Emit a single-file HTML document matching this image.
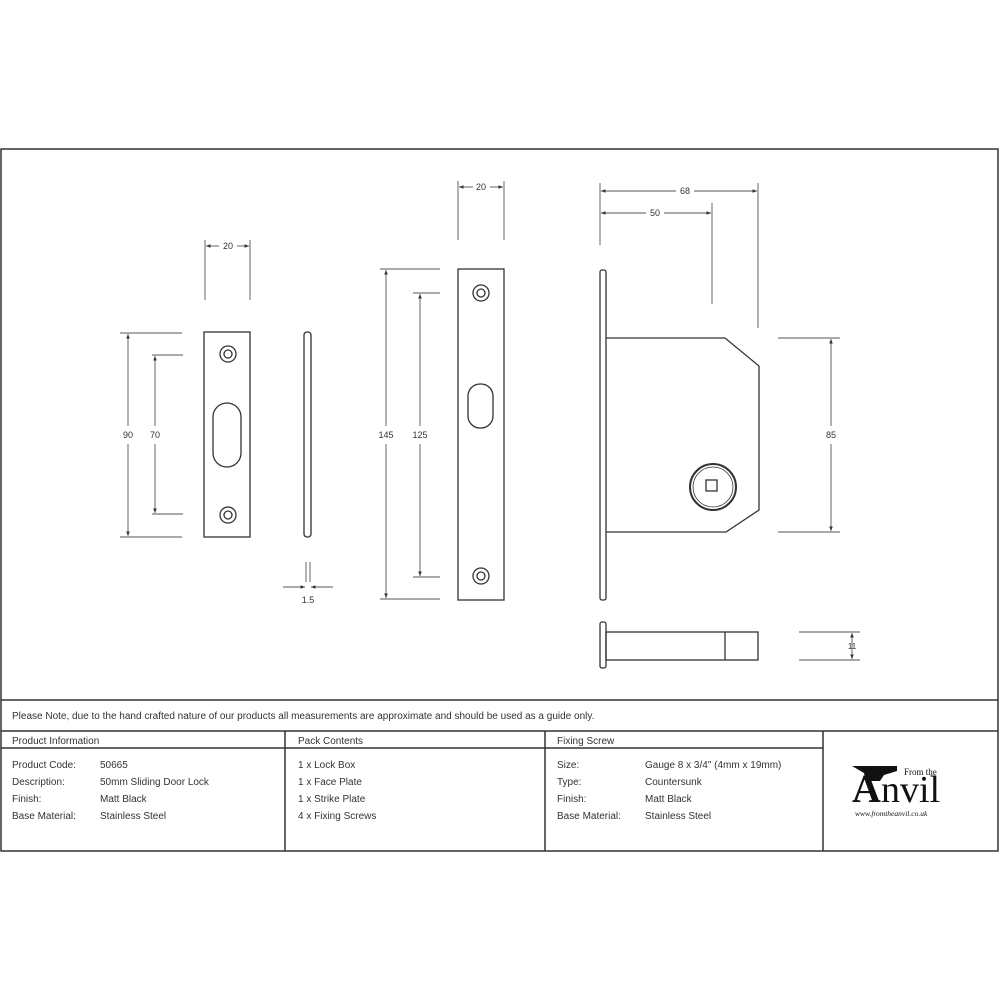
<!DOCTYPE html>
<html><head><meta charset="utf-8"><style>
html,body{margin:0;padding:0;background:#fff;}
svg{display:block}
text{font-family:"Liberation Sans",sans-serif;fill:#333}
text.serif{font-family:"Liberation Serif",serif;fill:#111}
</style></head><body>
<svg width="1000" height="1000" viewBox="0 0 1000 1000" xmlns="http://www.w3.org/2000/svg">
<defs>
<marker id="a" viewBox="0 0 10 10" refX="10" refY="5" markerWidth="5" markerHeight="5" orient="auto-start-reverse"><path d="M0,1 L10,5 L0,9z" fill="#333"/></marker>
</defs>
<rect width="1000" height="1000" fill="#fff"/>
<g stroke="#333" stroke-width="1.5" fill="none">
<rect x="1" y="149" width="997" height="702"/>
<line x1="1" y1="700" x2="998" y2="700"/>
<line x1="1" y1="731" x2="998" y2="731"/>
<line x1="1" y1="748" x2="823" y2="748"/>
<line x1="285" y1="731" x2="285" y2="851"/>
<line x1="545" y1="731" x2="545" y2="851"/>
<line x1="823" y1="731" x2="823" y2="851"/>
</g>
<g font-size="10">
<text x="12" y="719">Please Note, due to the hand crafted nature of our products all measurements are approximate and should be used as a guide only.</text>
<text x="12" y="744">Product Information</text>
<text x="298" y="744">Pack Contents</text>
<text x="557" y="744">Fixing Screw</text>
<text x="12" y="768">Product Code:</text><text x="100" y="768">50665</text>
<text x="12" y="785">Description:</text><text x="100" y="785">50mm Sliding Door Lock</text>
<text x="12" y="802">Finish:</text><text x="100" y="802">Matt Black</text>
<text x="12" y="819">Base Material:</text><text x="100" y="819">Stainless Steel</text>
<text x="298" y="768">1 x Lock Box</text>
<text x="298" y="785">1 x Face Plate</text>
<text x="298" y="802">1 x Strike Plate</text>
<text x="298" y="819">4 x Fixing Screws</text>
<text x="557" y="768">Size:</text><text x="645" y="768">Gauge 8 x 3/4" (4mm x 19mm)</text>
<text x="557" y="785">Type:</text><text x="645" y="785">Countersunk</text>
<text x="557" y="802">Finish:</text><text x="645" y="802">Matt Black</text>
<text x="557" y="819">Base Material:</text><text x="645" y="819">Stainless Steel</text>
</g>
<!-- logo -->
<path d="M852,766 L897,766 L897,771 L884,775 L880,781 L866,781 L864,773 Z" fill="#111"/>
<text class="serif" x="852" y="802" font-size="40" font-weight="bold">A</text>
<text class="serif" x="881" y="802" font-size="38">nvil</text>
<text class="serif" x="904" y="775" font-size="9">From the</text>
<text class="serif" x="855" y="816" font-size="7.5" font-style="italic">www.fromtheanvil.co.uk</text>

<g stroke="#333" stroke-width="1.3" fill="none">
<rect x="204" y="332" width="46" height="205"/>
<circle cx="228" cy="354" r="8"/><circle cx="228" cy="354" r="4"/>
<circle cx="228" cy="515" r="8"/><circle cx="228" cy="515" r="4"/>
<rect x="213" y="403" width="28" height="64" rx="14"/>
<rect x="304" y="332" width="7" height="205" rx="3"/>
<rect x="458" y="269" width="46" height="331"/>
<circle cx="481" cy="293" r="8"/><circle cx="481" cy="293" r="4"/>
<circle cx="481" cy="576" r="8"/><circle cx="481" cy="576" r="4"/>
<rect x="468" y="384" width="25" height="44" rx="12"/>
<rect x="600" y="270" width="6" height="330" rx="2"/>
<path d="M606,338 L725,338 L759,366 L759,510 L726,532 L606,532"/>
<circle cx="713" cy="487" r="23" stroke-width="2"/>
<circle cx="713" cy="487" r="20" stroke-width="0.8"/>
<rect x="706" y="480" width="11" height="11"/>
<rect x="600" y="622" width="6" height="46" rx="2"/>
<rect x="606" y="632" width="152" height="28"/>
<line x1="725" y1="632" x2="725" y2="660"/>
</g>
<g stroke="#555" stroke-width="0.9" fill="none">
<line x1="205" y1="240" x2="205" y2="300"/><line x1="250" y1="240" x2="250" y2="300"/>
<line x1="206" y1="246" x2="219" y2="246" marker-start="url(#a)"/><line x1="237" y1="246" x2="249" y2="246" marker-end="url(#a)"/>
<line x1="120" y1="333" x2="182" y2="333"/><line x1="120" y1="537" x2="182" y2="537"/>
<line x1="128" y1="334" x2="128" y2="426" marker-start="url(#a)"/><line x1="128" y1="444" x2="128" y2="536" marker-end="url(#a)"/>
<line x1="152" y1="355" x2="183" y2="355"/><line x1="152" y1="514" x2="183" y2="514"/>
<line x1="155" y1="356" x2="155" y2="426" marker-start="url(#a)"/><line x1="155" y1="444" x2="155" y2="513" marker-end="url(#a)"/>
<line x1="306" y1="562" x2="306" y2="582"/><line x1="310" y1="562" x2="310" y2="582"/>
<line x1="283" y1="587" x2="305" y2="587" marker-end="url(#a)"/><line x1="333" y1="587" x2="311" y2="587" marker-end="url(#a)"/>
<line x1="458" y1="181" x2="458" y2="240"/><line x1="504" y1="181" x2="504" y2="240"/>
<line x1="459" y1="187" x2="473" y2="187" marker-start="url(#a)"/><line x1="490" y1="187" x2="503" y2="187" marker-end="url(#a)"/>
<line x1="380" y1="269" x2="440" y2="269"/><line x1="380" y1="599" x2="440" y2="599"/>
<line x1="386" y1="270" x2="386" y2="426" marker-start="url(#a)"/><line x1="386" y1="444" x2="386" y2="598" marker-end="url(#a)"/>
<line x1="413" y1="293" x2="440" y2="293"/><line x1="413" y1="577" x2="440" y2="577"/>
<line x1="420" y1="294" x2="420" y2="426" marker-start="url(#a)"/><line x1="420" y1="444" x2="420" y2="576" marker-end="url(#a)"/>
<line x1="600" y1="183" x2="600" y2="245"/><line x1="758" y1="183" x2="758" y2="328"/><line x1="712" y1="203" x2="712" y2="304"/>
<line x1="601" y1="191" x2="676" y2="191" marker-start="url(#a)"/><line x1="694" y1="191" x2="757" y2="191" marker-end="url(#a)"/>
<line x1="601" y1="213" x2="646" y2="213" marker-start="url(#a)"/><line x1="664" y1="213" x2="711" y2="213" marker-end="url(#a)"/>
<line x1="778" y1="338" x2="840" y2="338"/><line x1="778" y1="532" x2="840" y2="532"/>
<line x1="831" y1="339" x2="831" y2="426" marker-start="url(#a)"/><line x1="831" y1="444" x2="831" y2="531" marker-end="url(#a)"/>
<line x1="799" y1="632" x2="860" y2="632"/><line x1="799" y1="660" x2="860" y2="660"/>
<line x1="852" y1="633" x2="852" y2="659" marker-start="url(#a)" marker-end="url(#a)"/>
</g>
<g font-size="9" text-anchor="middle">
<text x="228" y="249">20</text>
<text x="128" y="438">90</text>
<text x="155" y="438">70</text>
<text x="308" y="603">1.5</text>
<text x="481" y="190">20</text>
<text x="386" y="438">145</text>
<text x="420" y="438">125</text>
<text x="685" y="194">68</text>
<text x="655" y="216">50</text>
<text x="831" y="438">85</text>
<text x="852" y="649" font-size="8">11</text>
</g>
</svg>
</body></html>
